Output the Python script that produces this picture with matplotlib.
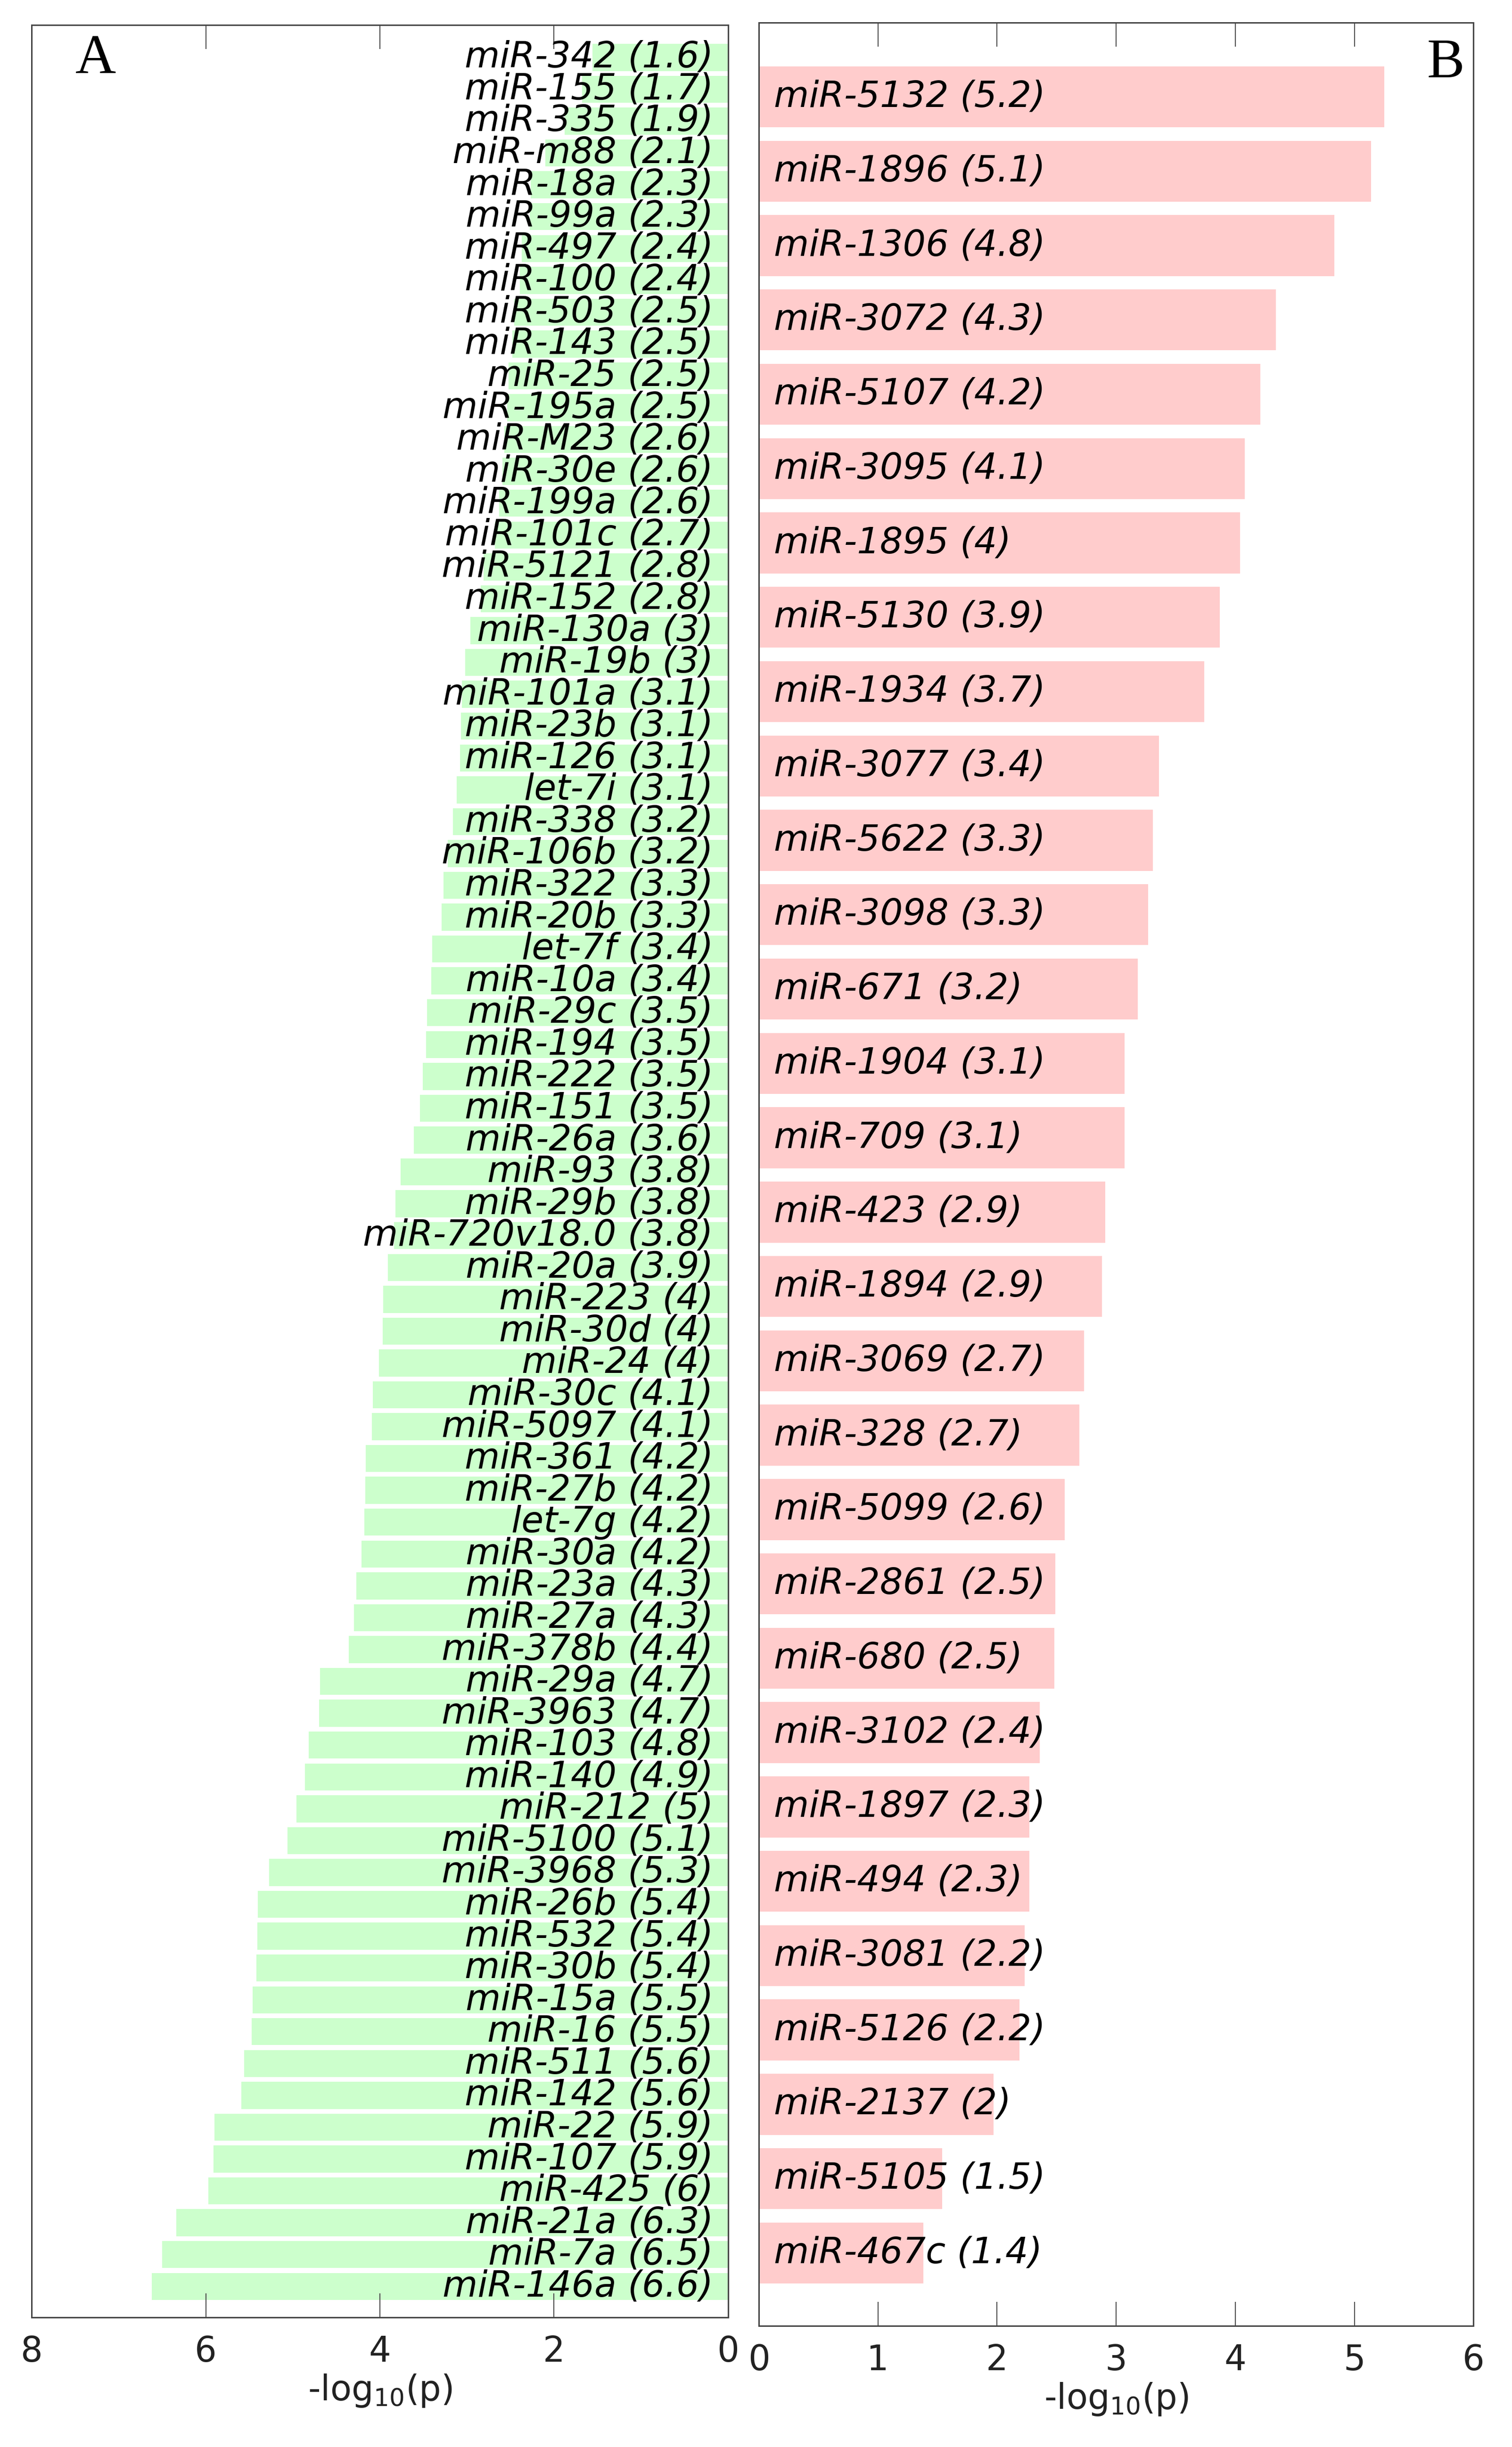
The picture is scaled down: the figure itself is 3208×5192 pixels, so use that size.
import numpy as np
import matplotlib
matplotlib.use("Agg")
import matplotlib.pyplot as plt

# panel A: miRNAs with -log10(p), top to bottom
left_names = [
    "miR-342", "miR-155", "miR-335", "miR-m88", "miR-18a", "miR-99a", "miR-497",
    "miR-100", "miR-503", "miR-143", "miR-25", "miR-195a", "miR-M23", "miR-30e",
    "miR-199a", "miR-101c", "miR-5121", "miR-152", "miR-130a", "miR-19b",
    "miR-101a", "miR-23b", "miR-126", "let-7i", "miR-338", "miR-106b", "miR-322",
    "miR-20b", "let-7f", "miR-10a", "miR-29c", "miR-194", "miR-222", "miR-151",
    "miR-26a", "miR-93", "miR-29b", "miR-720v18.0", "miR-20a", "miR-223",
    "miR-30d", "miR-24", "miR-30c", "miR-5097", "miR-361", "miR-27b", "let-7g",
    "miR-30a", "miR-23a", "miR-27a", "miR-378b", "miR-29a", "miR-3963",
    "miR-103", "miR-140", "miR-212", "miR-5100", "miR-3968", "miR-26b",
    "miR-532", "miR-30b", "miR-15a", "miR-16", "miR-511", "miR-142", "miR-22",
    "miR-107", "miR-425", "miR-21a", "miR-7a", "miR-146a",
]
left_values = [
    1.56, 1.68, 1.88, 2.10, 2.27, 2.28, 2.37, 2.39, 2.46, 2.48, 2.52, 2.54,
    2.57, 2.59, 2.63, 2.68, 2.81, 2.84, 2.96, 3.02, 3.06, 3.07, 3.08, 3.12,
    3.16, 3.22, 3.27, 3.29, 3.40, 3.41, 3.46, 3.47, 3.51, 3.54, 3.61, 3.76,
    3.82, 3.84, 3.91, 3.96, 3.97, 4.01, 4.08, 4.09, 4.16, 4.17, 4.18, 4.21,
    4.27, 4.30, 4.36, 4.69, 4.70, 4.82, 4.86, 4.96, 5.06, 5.27, 5.40, 5.41,
    5.42, 5.46, 5.47, 5.56, 5.59, 5.90, 5.91, 5.97, 6.34, 6.50, 6.62,
]

# panel B
right_names = [
    "miR-5132", "miR-1896", "miR-1306", "miR-3072", "miR-5107", "miR-3095",
    "miR-1895", "miR-5130", "miR-1934", "miR-3077", "miR-5622", "miR-3098",
    "miR-671", "miR-1904", "miR-709", "miR-423", "miR-1894", "miR-3069",
    "miR-328", "miR-5099", "miR-2861", "miR-680", "miR-3102", "miR-1897",
    "miR-494", "miR-3081", "miR-5126", "miR-2137", "miR-5105", "miR-467c",
]
right_values = [
    5.25, 5.14, 4.83, 4.34, 4.21, 4.08, 4.04, 3.87, 3.74, 3.36, 3.31, 3.27,
    3.18, 3.07, 3.07, 2.91, 2.88, 2.73, 2.69, 2.57, 2.49, 2.48, 2.36, 2.27,
    2.27, 2.23, 2.19, 1.97, 1.54, 1.38,
]

left_ticks = [8, 6, 4, 2, 0]
right_ticks = [0, 1, 2, 3, 4, 5, 6]

GREEN = "#ccffcc"
PINK = "#ffcccc"
SPINE = "#444444"
FS = 55


def label_text(name, v):
    return f"{name} ({round(v, 1):g})"


def style_axis(ax):
    for s in ax.spines.values():
        s.set_color(SPINE)
        s.set_linewidth(2.2)
    ax.tick_params(axis="x", direction="in", top=True, bottom=True,
                   length=37, width=1.4, color=SPINE, pad=27,
                   labelsize=53, labelcolor="#222222")
    ax.tick_params(axis="y", left=False, right=False, labelleft=False)
    ax.set_xlabel("-log$_{10}$(p)", fontsize=53, color="#222222", va="top")
    ax.xaxis.set_label_coords(0.5, -0.024)


fig = plt.figure(figsize=(32.08, 51.92), dpi=100)
ax1 = fig.add_axes([0.0209, 0.0530, 0.4607, 0.9368])
ax2 = fig.add_axes([0.5019, 0.0495, 0.4726, 0.9413])

# A
y1 = np.arange(len(left_values))
ax1.barh(y1, left_values, height=0.85, color=GREEN, linewidth=0)
ax1.set_xlim(8, 0)
ax1.set_ylim(len(left_values) - 0.03, -1.02)
ax1.set_xticks(left_ticks)
for yy, name, v in zip(y1, left_names, left_values):
    ax1.annotate(label_text(name, v), xy=(0, yy), xytext=(-23, 0),
                 textcoords="offset points", ha="right", va="center",
                 fontsize=FS, style="italic")
style_axis(ax1)
ax1.text(0.092, 0.985, "A", transform=ax1.transAxes, ha="center", va="center",
         fontsize=86, family="Liberation Serif")

# B
y2 = np.arange(len(right_values))
ax2.barh(y2, right_values, height=0.82, color=PINK, linewidth=0)
ax2.set_xlim(0, 6)
ax2.set_ylim(len(right_values) - 0.02, -1.0)
ax2.set_xticks(right_ticks)
for yy, name, v in zip(y2, right_names, right_values):
    ax2.annotate(label_text(name, v), xy=(0, yy), xytext=(23, 0),
                 textcoords="offset points", ha="left", va="center",
                 fontsize=FS, style="italic")
style_axis(ax2)
ax2.text(0.961, 0.982, "B", transform=ax2.transAxes, ha="center", va="center",
         fontsize=86, family="Liberation Serif")

fig.savefig("out.png", dpi=100, facecolor="white")
